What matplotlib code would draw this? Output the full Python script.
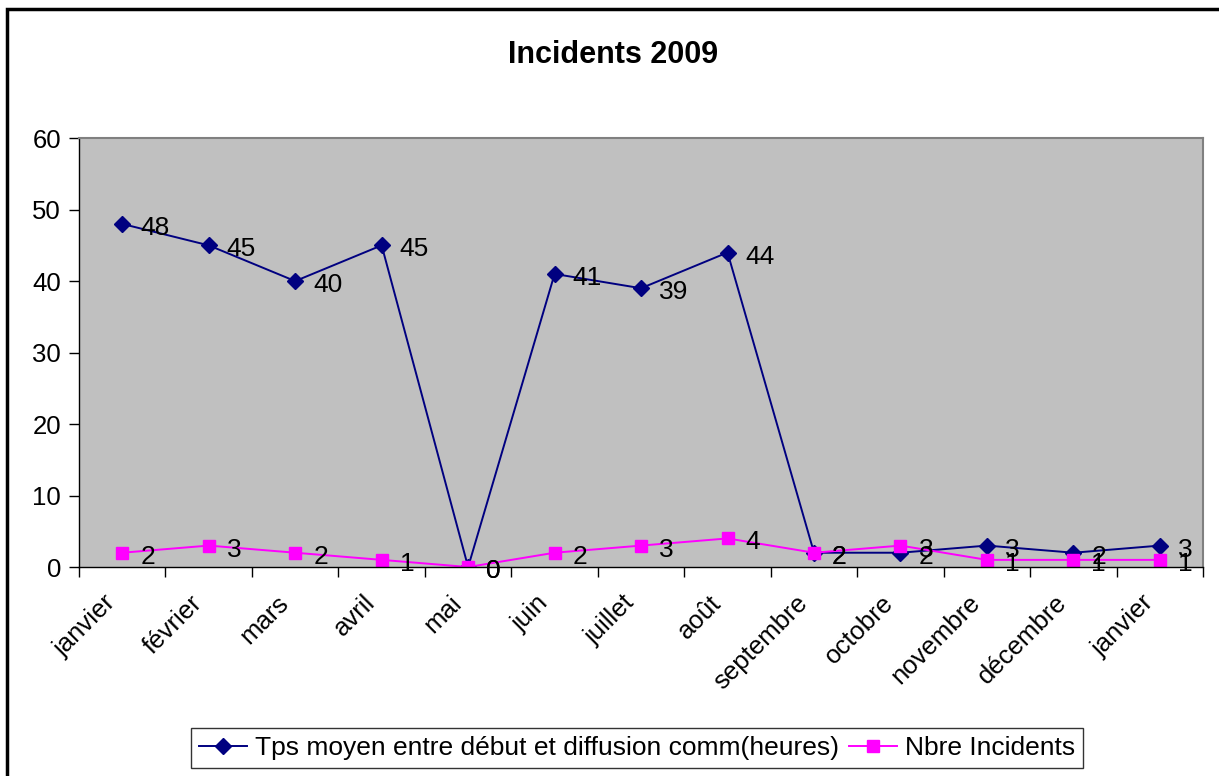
import matplotlib.pyplot as plt
from matplotlib.patches import Rectangle
from matplotlib.transforms import ScaledTranslation

plt.rcParams['font.family'] = ['Liberation Sans', 'DejaVu Sans']

months = ['janvier', 'février', 'mars', 'avril', 'mai', 'juin', 'juillet',
          'août', 'septembre', 'octobre', 'novembre', 'décembre', 'janvier']
tps_moyen = [48, 45, 40, 45, 0, 41, 39, 44, 2, 2, 3, 2, 3]
nb_incidents = [2, 3, 2, 1, 0, 2, 3, 4, 2, 3, 1, 1, 1]

fig = plt.figure(figsize=(12.19, 7.76), dpi=100)
ax = fig.add_axes([0.0648, 0.2693, 0.9222, 0.5527])
ax.set_facecolor('#C0C0C0')

x = list(range(len(months)))
ax.plot(x, tps_moyen, color='#000080', marker='D', markersize=8, lw=1.4,
        label='Tps moyen entre début et diffusion comm(heures)')
ax.plot(x, nb_incidents, color='#FF00FF', marker='s', markersize=8.5, lw=1.4,
        label='Nbre Incidents')

# data labels right of each point
for xi, v in zip(x, tps_moyen):
    ax.annotate(str(v), (xi, v), xytext=(18, -4), textcoords='offset pixels',
                ha='left', va='center', fontsize=19, annotation_clip=False)
for xi, v in zip(x, nb_incidents):
    ax.annotate(str(v), (xi, v), xytext=(18, -4), textcoords='offset pixels',
                ha='left', va='center', fontsize=19, annotation_clip=False)

ax.set_xlim(-0.5, len(months) - 0.5)
ax.set_ylim(0, 60)
ax.set_yticks(range(0, 61, 10))
ax.tick_params(axis='y', labelsize=18.5, direction='out', length=7, width=1, pad=6)

# ticks between categories, labels at category centres
ax.set_xticks([i - 0.5 for i in range(len(months) + 1)])
ax.set_xticklabels([])
ax.tick_params(axis='x', direction='out', length=7, width=1)
ax.set_xticks(x, minor=True)
ax.set_xticklabels(months, minor=True, rotation=45, ha='right',
                   rotation_mode='anchor', fontsize=18.5)
ax.tick_params(axis='x', which='minor', length=0, pad=17)
shift = ScaledTranslation(-19 / 100, 0, fig.dpi_scale_trans)
for lbl in ax.get_xticklabels(minor=True):
    lbl.set_transform(lbl.get_transform() + shift)

for s in ['left', 'bottom']:
    ax.spines[s].set_color('black')
    ax.spines[s].set_linewidth(1)
for s in ['top', 'right']:
    ax.spines[s].set_color('#808080')
    ax.spines[s].set_linewidth(1.5)

fig.text(0.503, 0.929, 'Incidents 2009', ha='center', va='center',
         fontsize=22, fontweight='bold')

leg = fig.legend(loc='center', bbox_to_anchor=(0.5226, 0.036), ncol=2,
                 fontsize=19, frameon=True, fancybox=False, handlelength=1.8,
                 handletextpad=0.3, columnspacing=0.4, borderpad=0.3)
leg.get_frame().set_edgecolor('black')
leg.get_frame().set_linewidth(1)

# outer chart border
fig.patches.append(Rectangle((7 / 1219, -0.1), 1.2, 1.088, transform=fig.transFigure,
                             fill=False, edgecolor='black', lw=2.5))

fig.savefig('out.png', dpi=100)
